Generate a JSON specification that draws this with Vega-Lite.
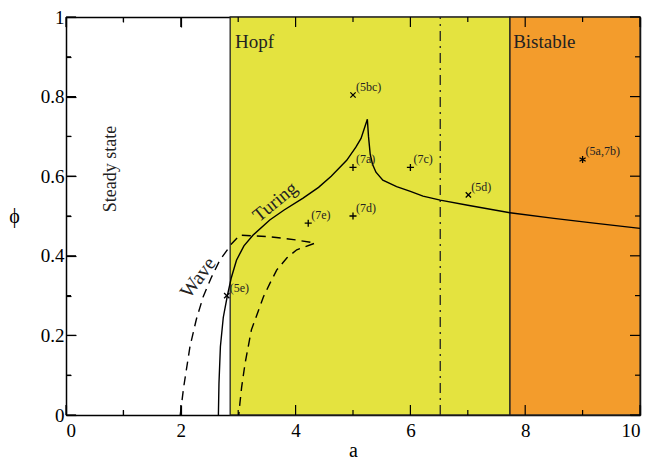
{
  "$schema": "https://vega.github.io/schema/vega-lite/v6.json",
  "width": 574,
  "height": 398,
  "autosize": {"type": "none"},
  "padding": {"left": 66, "top": 17, "right": 5, "bottom": 51},
  "background": "white",
  "view": {"stroke": null},
  "config": {
    "font": "Liberation Serif",
    "axis": {
      "grid": false,
      "domainColor": "black",
      "domainWidth": 1.5,
      "tickColor": "black",
      "tickWidth": 1.2,
      "labelFont": "Liberation Serif",
      "labelFontSize": 19,
      "labelColor": "black",
      "titleFont": "Liberation Serif",
      "titleFontSize": 20,
      "titleFontWeight": "normal",
      "titleColor": "black",
      "zindex": 1
    }
  },
  "resolve": {"axis": {"x": "independent", "y": "independent"}},
  "layer": [
    {
      "data": {"values": [
        {"region": "Hopf", "a1": 2.86, "a2": 7.735},
        {"region": "Bistable", "a1": 7.735, "a2": 10}
      ]},
      "mark": {"type": "rect", "stroke": "#222", "strokeWidth": 1.3},
      "encoding": {
        "x": {"field": "a1", "type": "quantitative", "scale": {"domain": [0, 10], "nice": false},
          "axis": {"orient": "bottom", "title": "a", "values": [0,1,2,3,4,5,6,7,8,9,10], "tickSize": -10,
            "labelExpr": "datum.value % 2 == 0 ? format(datum.value, 'd') : ''",
            "tickDash": {"condition": {"test": "datum.value % 2 == 0", "value": [10, 10]}, "value": [5, 20]},
            "labelPadding": 16, "titlePadding": 0}},
        "x2": {"field": "a2"},
        "y": {"datum": 0, "type": "quantitative", "scale": {"domain": [0, 1], "nice": false},
          "axis": {"orient": "left", "title": "ϕ", "titleAngle": 0, "titleX": -52, "titleY": 199,
            "titleBaseline": "middle", "titleAlign": "center", "tickSize": -10,
            "values": [0,0.1,0.2,0.3,0.4,0.5,0.6,0.7,0.8,0.9,1],
            "labelExpr": "round(datum.value*10) % 2 == 0 ? format(datum.value, '~g') : ''",
            "tickDash": {"condition": {"test": "round(datum.value*10) % 2 == 0", "value": [10, 10]}, "value": [5, 20]},
            "labelPadding": 12}},
        "y2": {"datum": 1},
        "color": {"field": "region", "type": "nominal", "legend": null,
          "scale": {"domain": ["Hopf", "Bistable"], "range": ["#e4e33f", "#f39c2c"]}}
      }
    },
    {
      "data": {"values": [
        {"a": 2.944, "phi": 0.922, "label": "Hopf"},
        {"a": 7.79, "phi": 0.922, "label": "Bistable"}
      ]},
      "mark": {"type": "text", "align": "left", "baseline": "alphabetic", "fontSize": 19, "color": "#222", "font": "Liberation Serif"},
      "encoding": {
        "x": {"field": "a", "type": "quantitative",
          "axis": {"orient": "top", "title": null, "labels": false, "tickSize": -10, "values": [0,1,2,3,4,5,6,7,8,9,10],
            "tickDash": {"condition": {"test": "datum.value % 2 == 0", "value": [10, 10]}, "value": [5, 20]}}},
        "y": {"field": "phi", "type": "quantitative",
          "axis": {"orient": "right", "title": null, "labels": false, "tickSize": -10, "values": [0,0.1,0.2,0.3,0.4,0.5,0.6,0.7,0.8,0.9,1],
            "tickDash": {"condition": {"test": "round(datum.value*10) % 2 == 0", "value": [10, 10]}, "value": [5, 20]}}},
        "text": {"field": "label"}
      }
    },
    {
      "data": {"values": [{"tick": 0}, {"tick": 2}, {"tick": 4}, {"tick": 6}, {"tick": 8}, {"tick": 10}]},
      "layer": [
        {
          "mark": {"type": "rule", "color": "black", "strokeWidth": 1.2},
          "encoding": {
            "x": {"field": "tick", "type": "quantitative", "axis": null},
            "y": {"datum": 0, "type": "quantitative", "axis": null},
            "y2": {"datum": 0.025}
          }
        },
        {
          "mark": {"type": "rule", "color": "black", "strokeWidth": 1.2},
          "encoding": {
            "x": {"field": "tick", "type": "quantitative", "axis": null},
            "y": {"datum": 1, "type": "quantitative", "axis": null},
            "y2": {"datum": 0.975}
          }
        }
      ]
    },
    {
      "data": {"values": [{"tick": 1}, {"tick": 3}, {"tick": 5}, {"tick": 7}, {"tick": 9}]},
      "layer": [
        {
          "mark": {"type": "rule", "color": "black", "strokeWidth": 1.2},
          "encoding": {
            "x": {"field": "tick", "type": "quantitative", "axis": null},
            "y": {"datum": 0, "type": "quantitative", "axis": null},
            "y2": {"datum": 0.0126}
          }
        },
        {
          "mark": {"type": "rule", "color": "black", "strokeWidth": 1.2},
          "encoding": {
            "x": {"field": "tick", "type": "quantitative", "axis": null},
            "y": {"datum": 1, "type": "quantitative", "axis": null},
            "y2": {"datum": 0.9874}
          }
        }
      ]
    },
    {
      "data": {"values": [{"tick": 0}, {"tick": 0.2}, {"tick": 0.4}, {"tick": 0.6}, {"tick": 0.8}, {"tick": 1}]},
      "layer": [
        {
          "mark": {"type": "rule", "color": "black", "strokeWidth": 1.2},
          "encoding": {
            "y": {"field": "tick", "type": "quantitative", "axis": null},
            "x": {"datum": 0, "type": "quantitative", "axis": null},
            "x2": {"datum": 0.174}
          }
        },
        {
          "mark": {"type": "rule", "color": "black", "strokeWidth": 1.2},
          "encoding": {
            "y": {"field": "tick", "type": "quantitative", "axis": null},
            "x": {"datum": 10, "type": "quantitative", "axis": null},
            "x2": {"datum": 9.826}
          }
        }
      ]
    },
    {
      "data": {"values": [{"tick": 0.1}, {"tick": 0.3}, {"tick": 0.5}, {"tick": 0.7}, {"tick": 0.9}]},
      "layer": [
        {
          "mark": {"type": "rule", "color": "black", "strokeWidth": 1.2},
          "encoding": {
            "y": {"field": "tick", "type": "quantitative", "axis": null},
            "x": {"datum": 0, "type": "quantitative", "axis": null},
            "x2": {"datum": 0.087}
          }
        },
        {
          "mark": {"type": "rule", "color": "black", "strokeWidth": 1.2},
          "encoding": {
            "y": {"field": "tick", "type": "quantitative", "axis": null},
            "x": {"datum": 10, "type": "quantitative", "axis": null},
            "x2": {"datum": 9.913}
          }
        }
      ]
    },
    {
      "data": {"values": [{"a": 6.52, "phi": 0}, {"a": 6.52, "phi": 1}]},
      "mark": {"type": "line", "color": "#222", "strokeWidth": 1.3, "strokeDash": [10, 5, 2, 5]},
      "encoding": {
        "x": {"field": "a", "type": "quantitative", "axis": null},
        "y": {"field": "phi", "type": "quantitative", "axis": null}
      }
    },
    {
      "data": {"values": [
        {"i": 1, "a": 2.655, "phi": 0},
        {"i": 2, "a": 2.665, "phi": 0.08},
        {"i": 3, "a": 2.69, "phi": 0.172},
        {"i": 4, "a": 2.74, "phi": 0.245},
        {"i": 5, "a": 2.81, "phi": 0.299},
        {"i": 6, "a": 2.88, "phi": 0.345},
        {"i": 7, "a": 2.97, "phi": 0.389},
        {"i": 8, "a": 3.1, "phi": 0.425},
        {"i": 9, "a": 3.26, "phi": 0.452},
        {"i": 10, "a": 3.55, "phi": 0.49},
        {"i": 11, "a": 3.8, "phi": 0.515},
        {"i": 12, "a": 4.13, "phi": 0.545},
        {"i": 13, "a": 4.4, "phi": 0.572},
        {"i": 14, "a": 4.62, "phi": 0.6},
        {"i": 15, "a": 4.89, "phi": 0.64},
        {"i": 16, "a": 5.05, "phi": 0.673},
        {"i": 17, "a": 5.14, "phi": 0.695},
        {"i": 18, "a": 5.25, "phi": 0.743},
        {"i": 19, "a": 5.27, "phi": 0.7},
        {"i": 20, "a": 5.3, "phi": 0.655},
        {"i": 21, "a": 5.34, "phi": 0.63},
        {"i": 22, "a": 5.4, "phi": 0.61},
        {"i": 23, "a": 5.52, "phi": 0.59},
        {"i": 24, "a": 5.76, "phi": 0.574},
        {"i": 25, "a": 6.0, "phi": 0.562},
        {"i": 26, "a": 6.22, "phi": 0.55},
        {"i": 27, "a": 6.52, "phi": 0.54},
        {"i": 28, "a": 7.0, "phi": 0.527},
        {"i": 29, "a": 7.735, "phi": 0.508},
        {"i": 30, "a": 8.5, "phi": 0.494},
        {"i": 31, "a": 9.2, "phi": 0.482},
        {"i": 32, "a": 10, "phi": 0.469}
      ]},
      "mark": {"type": "line", "color": "black", "strokeWidth": 1.4},
      "encoding": {
        "x": {"field": "a", "type": "quantitative", "axis": null},
        "y": {"field": "phi", "type": "quantitative", "axis": null},
        "order": {"field": "i", "type": "quantitative"}
      }
    },
    {
      "data": {"values": [
        {"i": 1, "a": 1.99, "phi": 0},
        {"i": 2, "a": 2.05, "phi": 0.07},
        {"i": 3, "a": 2.16, "phi": 0.172},
        {"i": 4, "a": 2.27, "phi": 0.24},
        {"i": 5, "a": 2.39, "phi": 0.297},
        {"i": 6, "a": 2.53, "phi": 0.345},
        {"i": 7, "a": 2.68, "phi": 0.389},
        {"i": 8, "a": 2.89, "phi": 0.431},
        {"i": 9, "a": 3.03, "phi": 0.452},
        {"i": 10, "a": 3.55, "phi": 0.448},
        {"i": 11, "a": 4.0, "phi": 0.44},
        {"i": 12, "a": 4.34, "phi": 0.432},
        {"i": 13, "a": 4.02, "phi": 0.415},
        {"i": 14, "a": 3.85, "phi": 0.395},
        {"i": 15, "a": 3.67, "phi": 0.364},
        {"i": 16, "a": 3.55, "phi": 0.33},
        {"i": 17, "a": 3.44, "phi": 0.297},
        {"i": 18, "a": 3.23, "phi": 0.214},
        {"i": 19, "a": 3.12, "phi": 0.13},
        {"i": 20, "a": 3.06, "phi": 0.07},
        {"i": 21, "a": 3.03, "phi": 0.03},
        {"i": 22, "a": 3.01, "phi": 0}
      ]},
      "mark": {"type": "line", "color": "black", "strokeWidth": 1.4, "strokeDash": [9, 6]},
      "encoding": {
        "x": {"field": "a", "type": "quantitative", "axis": null},
        "y": {"field": "phi", "type": "quantitative", "axis": null},
        "order": {"field": "i", "type": "quantitative"}
      }
    },
    {
      "data": {"values": [
        {"a": 5.0, "phi": 0.804, "marker": "x", "label": "(5bc)"},
        {"a": 5.0, "phi": 0.622, "marker": "+", "label": "(7a)"},
        {"a": 6.0, "phi": 0.622, "marker": "+", "label": "(7c)"},
        {"a": 5.0, "phi": 0.5, "marker": "+", "label": "(7d)"},
        {"a": 4.22, "phi": 0.482, "marker": "+", "label": "(7e)"},
        {"a": 7.01, "phi": 0.553, "marker": "x", "label": "(5d)"},
        {"a": 9.0, "phi": 0.642, "marker": "*", "label": "(5a,7b)"},
        {"a": 2.8, "phi": 0.3, "marker": "x", "label": "(5e)"}
      ]},
      "mark": {"type": "point", "filled": false, "stroke": "black", "strokeWidth": 1.3, "size": 50, "opacity": 1},
      "encoding": {
        "x": {"field": "a", "type": "quantitative", "axis": null},
        "y": {"field": "phi", "type": "quantitative", "axis": null},
        "shape": {"field": "marker", "type": "nominal", "legend": null,
          "scale": {"domain": ["x", "+", "*"],
            "range": ["M-0.75,-0.75L0.75,0.75M-0.75,0.75L0.75,-0.75", "M0,-1L0,1M-1,0L1,0", "M0,-1L0,1M-0.87,-0.5L0.87,0.5M-0.87,0.5L0.87,-0.5"]}}
      }
    },
    {
      "data": {"values": [
        {"a": 5.0, "phi": 0.804, "label": "(5bc)"},
        {"a": 5.0, "phi": 0.622, "label": "(7a)"},
        {"a": 6.0, "phi": 0.622, "label": "(7c)"},
        {"a": 5.0, "phi": 0.5, "label": "(7d)"},
        {"a": 4.22, "phi": 0.482, "label": "(7e)"},
        {"a": 7.01, "phi": 0.553, "label": "(5d)"},
        {"a": 9.0, "phi": 0.642, "label": "(5a,7b)"},
        {"a": 2.8, "phi": 0.3, "label": "(5e)"}
      ]},
      "mark": {"type": "text", "align": "left", "baseline": "middle", "dx": 3, "dy": -8, "fontSize": 12, "color": "#222", "font": "Liberation Serif"},
      "encoding": {
        "x": {"field": "a", "type": "quantitative", "axis": null},
        "y": {"field": "phi", "type": "quantitative", "axis": null},
        "text": {"field": "label"}
      }
    },
    {
      "data": {"values": [{"a": 0.78, "phi": 0.618, "label": "Steady state"}]},
      "mark": {"type": "text", "align": "center", "baseline": "middle", "angle": 270, "fontSize": 18, "color": "#222", "font": "Liberation Serif"},
      "encoding": {
        "x": {"field": "a", "type": "quantitative", "axis": null},
        "y": {"field": "phi", "type": "quantitative", "axis": null},
        "text": {"field": "label"}
      }
    },
    {
      "data": {"values": [{"a": 3.64, "phi": 0.536, "label": "Turing"}]},
      "mark": {"type": "text", "align": "center", "baseline": "middle", "angle": 321, "fontSize": 19, "color": "#222", "font": "Liberation Serif"},
      "encoding": {
        "x": {"field": "a", "type": "quantitative", "axis": null},
        "y": {"field": "phi", "type": "quantitative", "axis": null},
        "text": {"field": "label"}
      }
    },
    {
      "data": {"values": [{"a": 2.305, "phi": 0.345, "label": "Wave"}]},
      "mark": {"type": "text", "align": "center", "baseline": "middle", "angle": 307, "fontSize": 20, "color": "#222", "font": "Liberation Serif"},
      "encoding": {
        "x": {"field": "a", "type": "quantitative", "axis": null},
        "y": {"field": "phi", "type": "quantitative", "axis": null},
        "text": {"field": "label"}
      }
    }
  ]
}
